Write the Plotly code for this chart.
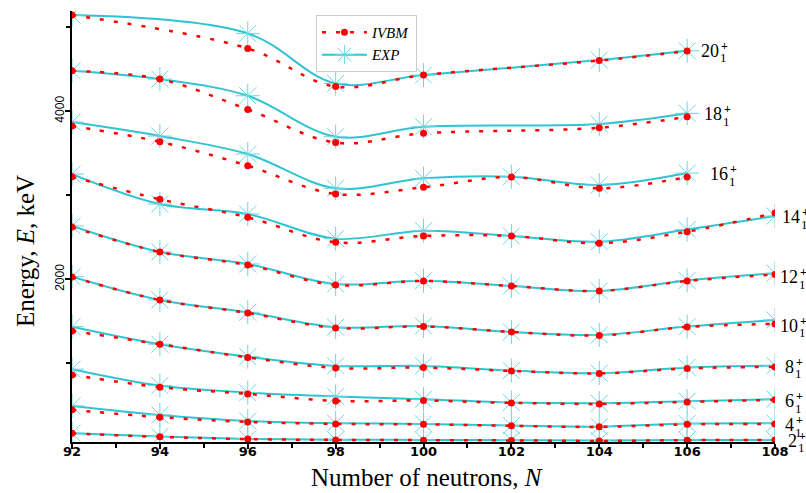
import plotly.graph_objects as go

# ---------------- data (keV) ----------------
STATES = ["20", "18", "16", "14", "12", "10", "8", "6", "4", "2"]

N_20 = [92, 96, 98, 100, 104, 106]
EXP_20 = [5141, 4923, 4329, 4428, 4606, 4717]
IVBM_20 = [5141, 4745, 4291, 4428, 4600, 4713]

N_18 = [92, 94, 96, 98, 100, 104, 106]
EXP_18 = [4479, 4380, 4182, 3695, 3814, 3846, 3973]
IVBM_18 = [4479, 4380, 4020, 3626, 3735, 3802, 3932]

N_16 = [92, 94, 96, 98, 100, 102, 104, 106]
EXP_16 = [3869, 3703, 3489, 3082, 3200, 3219, 3121, 3263]
IVBM_16 = [3822, 3635, 3350, 3014, 3093, 3216, 3082, 3216]

N_LOW = [92, 94, 96, 98, 100, 102, 104, 106, 108]
EXP_14 = [3251, 2895, 2776, 2483, 2578, 2515, 2447, 2592, 2752]
IVBM_14 = [3219, 2951, 2737, 2440, 2515, 2515, 2428, 2566, 2788]
EXP_12 = [2634, 2325, 2182, 1944, 1983, 1920, 1861, 1986, 2071]
IVBM_12 = [2622, 2325, 2170, 1932, 1980, 1920, 1861, 1980, 2057]
EXP_10 = [2031, 1754, 1608, 1430, 1445, 1374, 1338, 1437, 1516]
IVBM_10 = [2027, 1754, 1600, 1421, 1439, 1374, 1332, 1433, 1469]
EXP_8 = [1437, 1228, 1080, 970, 970, 914, 883, 952, 973]
IVBM_8 = [1386, 1228, 1071, 946, 950, 910, 881, 940, 958]
EXP_6 = [931, 736, 652, 607, 574, 534, 526, 550, 574]
IVBM_6 = [863, 717, 637, 554, 557, 530, 518, 542, 566]
EXP_4 = [494, 387, 316, 289, 280, 260, 248, 284, 289]
IVBM_4 = [447, 360, 304, 280, 275, 257, 245, 275, 280]
EXP_2 = [170, 130, 102, 93, 90, 87, 82, 90, 90]
IVBM_2 = [168, 126, 100, 90, 87, 84, 78, 87, 88]

X_TICKS = [92, 94, 96, 98, 100, 102, 104, 106, 108]
Y_TICKS = [2000, 4000]

SERIES = {
    "20": (N_20, EXP_20, IVBM_20),
    "18": (N_18, EXP_18, IVBM_18),
    "16": (N_16, EXP_16, IVBM_16),
    "14": (N_LOW, EXP_14, IVBM_14),
    "12": (N_LOW, EXP_12, IVBM_12),
    "10": (N_LOW, EXP_10, IVBM_10),
    "8": (N_LOW, EXP_8, IVBM_8),
    "6": (N_LOW, EXP_6, IVBM_6),
    "4": (N_LOW, EXP_4, IVBM_4),
    "2": (N_LOW, EXP_2, IVBM_2),
}

# label pixel offsets (style)
LABEL_DX = {"20": 12, "18": 15, "16": 21, "14": 5, "12": 3, "10": 3, "8": 8, "6": 8, "4": 8, "2": 11}
LABEL_DY = {"20": 0, "18": 1, "16": 1, "14": 1, "12": 4, "10": 6, "8": 1, "6": 2, "4": 2, "2": 1}

RED = "#ff0000"
CYAN_LINE = "rgb(48,196,208)"
CYAN_MARK = "rgb(110,214,226)"
SERIF = "Liberation Serif"

fig = go.Figure()

for i, s in enumerate(STATES):
    n, e, _ = SERIES[s]
    fig.add_trace(go.Scatter(
        x=n, y=e, mode="lines+markers", name="<i>EXP</i>",
        legendgroup="exp", showlegend=(i == 0), legendrank=2,
        line=dict(color=CYAN_LINE, width=2, shape="spline", smoothing=1),
        marker=dict(symbol="asterisk-open", size=20, color=CYAN_MARK,
                    line=dict(width=1, color=CYAN_MARK)),
    ))
for i, s in enumerate(STATES):
    n, _, v = SERIES[s]
    fig.add_trace(go.Scatter(
        x=n, y=v, mode="lines+markers", name="<i>IVBM</i>",
        legendgroup="ivbm", showlegend=(i == 0), legendrank=1,
        line=dict(color=RED, width=2.5, dash="4px,10px", shape="spline", smoothing=1),
        marker=dict(symbol="circle", size=7, color=RED),
    ))

annotations = []
for s in STATES:
    n, e, _ = SERIES[s]
    dx, dy = LABEL_DX[s], LABEL_DY[s]
    w = 9 * len(s)
    annotations.append(dict(x=n[-1], y=e[-1], xref="x", yref="y", text=s,
                            showarrow=False, xanchor="left", yanchor="middle",
                            xshift=dx, yshift=-dy,
                            font=dict(family=SERIF, size=18, color="black")))
    annotations.append(dict(x=n[-1], y=e[-1], xref="x", yref="y", text="1",
                            showarrow=False, xanchor="left", yanchor="middle",
                            xshift=dx + w + 1, yshift=-(dy + 7),
                            font=dict(family=SERIF, size=13, color="black")))
    annotations.append(dict(x=n[-1], y=e[-1], xref="x", yref="y", text="<b>+</b>",
                            showarrow=False, xanchor="left", yanchor="middle",
                            xshift=dx + w + 2, yshift=-(dy - 5),
                            font=dict(family=SERIF, size=12, color="black")))

annotations.append(dict(x=0.505, y=-0.083, xref="paper", yref="paper",
                        text="Number of neutrons, <i>N</i>", showarrow=False,
                        xanchor="center", yanchor="middle",
                        font=dict(family=SERIF, size=25, color="black")))
annotations.append(dict(x=-0.067, y=0.443, xref="paper", yref="paper",
                        text="Energy, <i>E</i>, keV", showarrow=False, textangle=-90,
                        xanchor="center", yanchor="middle",
                        font=dict(family=SERIF, size=25, color="black")))

fig.update_layout(
    width=806, height=493,
    margin=dict(l=72, r=31, t=11, b=51),
    paper_bgcolor="white", plot_bgcolor="white",
    annotations=annotations,
    legend=dict(x=0.347, y=0.991, xanchor="left", yanchor="top",
                bordercolor="#cccccc", borderwidth=1, bgcolor="white",
                font=dict(family=SERIF, size=15, color="black"),
                itemwidth=45, tracegroupgap=0),
    xaxis=dict(range=[92, 108], tickvals=X_TICKS, ticks="outside", ticklen=5,
               tickwidth=1.5, tickcolor="black", showgrid=False, zeroline=False,
               showline=True, linecolor="black", linewidth=2, automargin=False,
               ticklabelstandoff=-9,
               tickfont=dict(family="DejaVu Sans", size=13, color="black", weight="bold"),
               minor=dict(dtick=1, tick0=92, ticks="outside", ticklen=4, tickcolor="black")),
    yaxis=dict(range=[65, 5190], tickvals=Y_TICKS, ticks="outside", ticklen=5,
               tickwidth=1.5, tickcolor="black", showgrid=False, zeroline=False,
               showline=True, linecolor="black", linewidth=2, tickangle=-90, automargin=False,
               ticklabelstandoff=-4,
               tickfont=dict(family="Liberation Sans", size=12, color="black"),
               minor=dict(dtick=1000, tick0=0, ticks="outside", ticklen=4, tickcolor="black")),
)

fig.write_html("out.html", config={"displayModeBar": False},
               post_script="document.body.style.margin='0';document.body.style.overflow='hidden';")
